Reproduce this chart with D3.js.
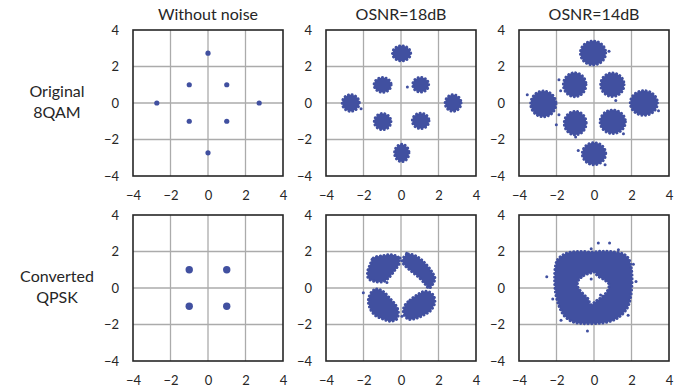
<!DOCTYPE html>
<html>
<head>
<meta charset="utf-8">
<script src="https://cdn.jsdelivr.net/npm/d3@7"></script>
<style>
  body { margin: 0; background: #fff; }
  text { font-family: Lato, "Open Sans", sans-serif; fill: #262626; }
</style>
</head>
<body>
<div id="chart"></div>
<script>
// tick labels and titles
const ticks = [-4, -2, 0, 2, 4];
const colTitles = ["Without noise", "OSNR=18dB", "OSNR=14dB"];
const rowLabels = [["Original", "8QAM"], ["Converted", "QPSK"]];

// 8QAM constellation points
const qamPoints = [[0, 2.73], [-1, 1], [1, 1], [-2.73, 0], [2.73, 0], [-1, -1], [1, -1], [0, -2.73]];
// noisy clusters: [cx, cy, rx, ry]
const qam18Clusters = [[0.03, 2.72, 0.56, 0.49], [-0.98, 0.99, 0.53, 0.48], [1.05, 1.0, 0.5, 0.48],
  [-2.68, 0.0, 0.53, 0.53], [2.78, 0.0, 0.5, 0.53], [-0.98, -1.02, 0.52, 0.52], [1.05, -0.98, 0.52, 0.5], [0.04, -2.74, 0.46, 0.55]];
const qam18Outliers = [[0.34, 0.88], [-2.13, -0.31]];
const qam14Clusters = [[-0.05, 2.74, 0.75, 0.73], [-1.03, 1.0, 0.68, 0.73], [0.98, 1.0, 0.7, 0.72],
  [-2.7, -0.05, 0.75, 0.78], [2.66, 0.0, 0.8, 0.75], [-1.0, -1.1, 0.66, 0.72], [1.0, -1.03, 0.75, 0.72], [0.0, -2.78, 0.7, 0.68]];
const qam14Outliers = [[-1.87, 1.28], [-1.78, 0.67], [-3.56, 0.45], [-1.87, -0.64], [-2.01, -1.19], [-0.98, -1.86],
  [-0.84, -2.6], [0.59, -3.38], [1.16, 0.14], [1.57, -1.68], [3.44, -0.42], [0.8, 2.83]];

// converted QPSK points
const qpskPoints = [[-1, 1], [1, 1], [-1, -1], [1, -1]];
// outlines of the four lobes at OSNR=18dB
const qpsk18Lobes = [
  [[-1.65, 1.27], [-1.48, 1.64], [-0.94, 1.78], [-0.5, 1.82], [-0.14, 1.68], [-0.09, 1.36], [-0.32, 0.99],
   [-0.68, 0.53], [-0.94, 0.35], [-1.39, 0.35], [-1.74, 0.53], [-1.78, 0.9]],
  [[0.18, 1.73], [0.39, 1.86], [0.84, 1.73], [1.28, 1.36], [1.64, 0.9], [1.81, 0.53], [1.72, 0.26], [1.49, -0.02],
   [1.32, 0.17], [1.01, 0.53], [0.57, 0.9], [0.21, 1.23], [0.07, 1.45]],
  [[-1.56, -0.2], [-1.3, -0.06], [-0.94, -0.2], [-0.59, -0.57], [-0.28, -0.94], [-0.14, -1.31], [-0.23, -1.71],
   [-0.59, -1.82], [-0.94, -1.71], [-1.39, -1.49], [-1.65, -1.12], [-1.74, -0.66]],
  [[0.21, -0.94], [0.48, -0.66], [0.84, -0.39], [1.19, -0.2], [1.46, -0.2], [1.72, -0.39], [1.81, -0.76],
   [1.6, -1.22], [1.19, -1.49], [0.75, -1.68], [0.39, -1.71], [0.18, -1.49], [0.12, -1.22]]
];
const qpsk18Outliers = [[-2.01, -0.26], [-0.05, 1.65], [0.05, -1.55], [-0.75, 0.3], [0.3, 1.9], [1.5, 0.05]];
// ring at OSNR=14dB: outer outline and inner hole
const qpsk14Outer = [[-2.06, 1.18], [-1.94, 1.55], [-1.59, 1.85], [-1.15, 1.98], [-0.62, 2.0], [-0.09, 1.97], [0.44, 2.02],
  [1.06, 1.98], [1.59, 1.85], [1.85, 1.6], [1.99, 1.09], [2.03, 0.35], [1.94, -0.57], [1.76, -1.12], [1.32, -1.6],
  [0.79, -1.85], [0.09, -1.95], [-0.62, -1.95], [-1.15, -1.85], [-1.59, -1.52], [-1.85, -1.03], [-2.03, -0.39], [-2.1, 0.35]];
const qpsk14Hole = [[-0.85, 0.38], [-0.55, 0.68], [-0.18, 0.82], [0.0, 0.88], [0.2, 0.66], [0.5, 0.48], [0.8, 0.2],
  [0.68, -0.22], [0.38, -0.52], [0.1, -0.72], [-0.18, -0.92], [-0.3, -0.62], [-0.58, -0.32], [-0.86, 0.05]];
const qpsk14Outliers = [[-2.52, 0.62], [0.23, 2.47], [0.83, 2.47], [2.24, 0.35], [-1.76, -1.77], [-0.35, -2.36],
  [1.82, -1.49], [-0.15, 2.15], [1.3, 2.1], [-0.15, 0.5], [0.35, -0.38], [-2.2, -0.6], [2.1, 1.3]];

const W = 683, H = 391;
const colLeft = [133, 326, 519];
const rowTop = [30, 215];
const pw = 150, ph = 146;
const dotColor = "#4150a0";

const svg = d3.select("#chart").append("svg")
  .attr("width", W)
  .attr("height", H);

svg.selectAll(".col-title")
  .data(colTitles)
  .enter().append("text")
  .attr("x", (d, i) => colLeft[i] + pw / 2)
  .attr("y", 20)
  .attr("text-anchor", "middle")
  .style("font-size", "16px")
  .text(d => d);

rowLabels.forEach((lines, r) => {
  const t = svg.append("text")
    .attr("x", 57)
    .attr("y", rowTop[r] + ph / 2 - 6)
    .attr("text-anchor", "middle")
    .style("font-size", "16px");
  lines.forEach((l, k) => {
    t.append("tspan").attr("x", 57).attr("dy", k === 0 ? 0 : 21).text(l);
  });
});

function panel(r, c, draw) {
  const g = svg.append("g").attr("transform", `translate(${colLeft[c]},${rowTop[r]})`);
  const x = d3.scaleLinear().domain([-4, 4]).range([0, pw]);
  const y = d3.scaleLinear().domain([-4, 4]).range([ph, 0]);
  const inner = ticks.slice(1, -1);

  g.selectAll(".gx").data(inner).enter().append("line")
    .attr("x1", d => x(d)).attr("x2", d => x(d))
    .attr("y1", 0).attr("y2", ph)
    .attr("stroke", "#ababab").attr("stroke-width", 1.3);
  g.selectAll(".gy").data(inner).enter().append("line")
    .attr("y1", d => y(d)).attr("y2", d => y(d))
    .attr("x1", 0).attr("x2", pw)
    .attr("stroke", "#ababab").attr("stroke-width", 1.3);

  draw(g, x, y);

  g.append("rect")
    .attr("width", pw).attr("height", ph)
    .attr("fill", "none")
    .attr("stroke", "#262626")
    .attr("stroke-width", 1.6);

  g.append("g")
    .attr("transform", `translate(0,${ph})`)
    .call(d3.axisBottom(x).tickValues(ticks).tickSize(0).tickPadding(15))
    .call(a => a.select(".domain").remove())
    .selectAll("text").style("font-size", "13px").attr("fill", "#262626");
  g.append("g")
    .call(d3.axisLeft(y).tickValues(ticks).tickSize(0).tickPadding(14))
    .call(a => a.select(".domain").remove())
    .selectAll("text").style("font-size", "13px").attr("fill", "#262626");
}

function dots(g, x, y, pts, rad) {
  g.selectAll(null).data(pts).enter().append("circle")
    .attr("cx", d => x(d[0])).attr("cy", d => y(d[1]))
    .attr("r", rad).attr("fill", dotColor);
}

// dotted outline gives the ragged edge of a dense point cloud
function rough(sel, w) {
  sel.attr("fill", dotColor)
    .attr("stroke", dotColor)
    .attr("stroke-width", w)
    .attr("stroke-linecap", "round")
    .attr("stroke-dasharray", "0.1,3.6");
}

function clusters(g, x, y, list) {
  g.selectAll(null).data(list).enter().append("ellipse")
    .attr("cx", d => x(d[0])).attr("cy", d => y(d[1]))
    .attr("rx", d => x(d[2]) - x(0) - 1.4)
    .attr("ry", d => y(0) - y(d[3]) - 1.4)
    .call(rough, 3);
}

function blob(g, x, y, rings) {
  const line = d3.line().x(d => x(d[0])).y(d => y(d[1])).curve(d3.curveCatmullRomClosed);
  g.append("path")
    .attr("d", rings.map(line).join(" "))
    .attr("fill-rule", "evenodd")
    .call(rough, 3);
}

panel(0, 0, (g, x, y) => dots(g, x, y, qamPoints, 2.6));
panel(0, 1, (g, x, y) => { clusters(g, x, y, qam18Clusters); dots(g, x, y, qam18Outliers, 1.5); });
panel(0, 2, (g, x, y) => { clusters(g, x, y, qam14Clusters); dots(g, x, y, qam14Outliers, 1.5); });
panel(1, 0, (g, x, y) => dots(g, x, y, qpskPoints, 3.7));
panel(1, 1, (g, x, y) => {
  qpsk18Lobes.forEach(l => blob(g, x, y, [l]));
  dots(g, x, y, qpsk18Outliers, 1.5);
});
panel(1, 2, (g, x, y) => { blob(g, x, y, [qpsk14Outer, qpsk14Hole]); dots(g, x, y, qpsk14Outliers, 1.5); });
</script>
</body>
</html>
